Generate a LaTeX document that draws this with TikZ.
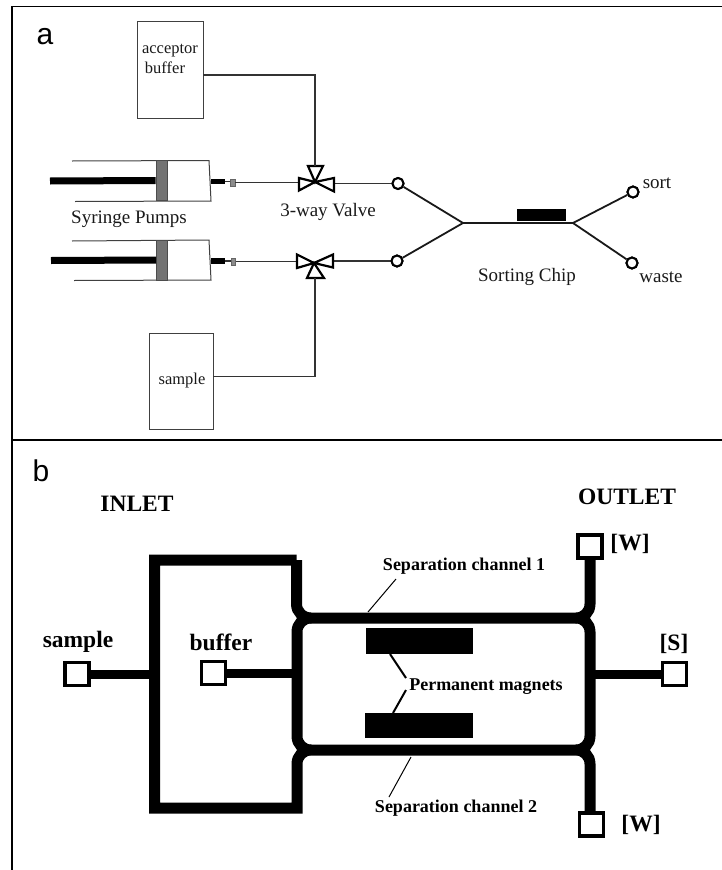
\documentclass[tikz,border=0pt]{standalone}
\usepackage{fontspec}
\setmainfont{Liberation Serif}
\newfontfamily\panelfont{Liberation Sans}
\newcommand{\fsz}[1]{\fontsize{#1}{#1}\selectfont}
\tikzset{
  frameline/.style={line width=1.6pt,black},
  tube/.style={line width=1.1pt,black!80},
  chipline/.style={line width=1.8pt,black!90},
  barrel/.style={line width=1pt,black!75},
  rod/.style={line width=7pt,black},
  vtri/.style={draw=black,fill=white,line width=2.2pt,line join=miter},
  reservoir/.style={draw=black!75,fill=white,line width=0.9pt,inner sep=0pt},
  pistonbox/.style={draw=black!70,fill=black!55,line width=0.6pt,inner sep=0pt,minimum width=11pt,minimum height=40pt},
  tipbox/.style={draw=black!60,fill=black!45,line width=0.5pt,inner sep=0pt,minimum width=4.5pt,minimum height=6.5pt},
  port/.style={circle,draw=black,fill=white,line width=2pt,inner sep=0pt,minimum size=11pt},
  lab/.style={inner sep=0pt,black!90,font=\fsz{19}},
  blab/.style={inner sep=0pt,black,font=\bfseries\fsz{18}},
  bbig/.style={inner sep=0pt,black,font=\bfseries\fsz{23.5}},
  panel/.style={inner sep=0pt,black,font=\panelfont\fsz{30}},
  channel/.style={line width=11pt,black,line cap=butt,line join=miter},
  stub/.style={line width=9pt,black},
  well/.style={draw=black,fill=white,line width=3.6pt,inner sep=0pt,minimum width=24pt,minimum height=23pt},
  magnet/.style={fill=black,inner sep=0pt,minimum width=107pt,minimum height=26pt},
  leader/.style={line width=1pt,black},
  mleader/.style={line width=2pt,black}
}
\begin{document}
\begin{tikzpicture}[x=1pt,y=-1pt]
\useasboundingbox (0,0) rectangle (722,870);
% frame
\coordinate (ftl) at (12,6.5); \coordinate (ftr) at (722,6.5);
\coordinate (fml) at (12,440); \coordinate (fmr) at (722,440);
\coordinate (fbl) at (12,870);
\draw[frameline] (ftr) -- (ftl) -- (fbl);
\draw[frameline] (fml) -- (fmr);
\node[panel] (la) at (45,37) {a};
\node[panel] (lb) at (41,471) {b};

% ---------- panel a ----------
\node[reservoir,minimum width=66pt,minimum height=97pt] (acceptor) at (170,69.5) {};
\node[lab,font=\fsz{16.5}] (acceptorT1) at (170,51) {acceptor};
\node[lab,font=\fsz{16.5}] (acceptorT2) at (165,68) {buffer};
\node[reservoir,minimum width=64pt,minimum height=96pt] (samplebox) at (181,381) {};
\node[lab,font=\fsz{16.5}] (sampleT) at (182,381) {sample};

% valves
\coordinate (v1) at (315,182); \coordinate (v1top) at (315,166);
\coordinate (v1l) at (299,182.5); \coordinate (v1r) at (334,183.5);
\coordinate (v2) at (314,263); \coordinate (v2bot) at (315,278);
\coordinate (v2l) at (297,261.5); \coordinate (v2r) at (333,261);

% syringes
\coordinate (b1a) at (72,161); \coordinate (b1b) at (209,160.5); \coordinate (b1c) at (211,201); \coordinate (b1d) at (75,201.5);
\draw[barrel] (b1a) -- (b1b) -- (b1c) -- (b1d);
\coordinate (b2a) at (72,241); \coordinate (b2b) at (209,240); \coordinate (b2c) at (211,280); \coordinate (b2d) at (74,280.5);
\draw[barrel] (b2a) -- (b2b) -- (b2c) -- (b2d);
\coordinate (r1) at (50,181); \coordinate (r2) at (51,260.5);
\node[pistonbox] (p1) at (161.5,180.5) {};
\node[pistonbox] (p2) at (162,260) {};
\draw[rod] (r1) -- (p1.west);
\draw[rod] (r2) -- (p2.west);
\coordinate (n1) at (211,181.5); \coordinate (n2) at (211,261);
\node[tipbox] (t1) at (232.5,182.5) {};
\node[tipbox] (t2) at (233,261.5) {};
\draw[line width=5.5pt,black] (n1) -- ++(14,0) coordinate (n1e);
\draw[line width=5.5pt,black] (n2) -- ++(14,0) coordinate (n2e);
\draw[tube] (n1e) -- (n1e -| t1.west);
\draw[tube] (n2e) -- (n2e -| t2.west);
\draw[tube] (t1.east) -- (v1l);
\draw[tube] (t2.east) -- (v2l);

% chip
\node[port] (in1) at (398,183.5) {};
\node[port] (in2) at (397,261) {};
\node[port] (sortp) at (633,192) {};
\node[port] (wastep) at (632,263) {};
\coordinate (j1) at (463,223); \coordinate (j2) at (573,223);
\node[fill=black,inner sep=0pt,minimum width=49pt,minimum height=12pt] (chip) at (541.5,215) {};
\draw[tube] (v1r) -- (in1.west);
\draw[tube] (v2r) -- (in2.west);
\draw[chipline] (in1) -- (j1) -- (in2);
\draw[chipline] (j1) -- (j2);
\draw[chipline] (sortp) -- (j2) -- (wastep);
\node[port] at (in1) {};
\node[port] at (in2) {};
\node[port] at (sortp) {};
\node[port] at (wastep) {};

% valve triangles
\draw[vtri] (v1) -- (308,166) -- (323,166) -- cycle;
\draw[vtri] (v1) -- (299,178) -- (299,190.5) -- cycle;
\draw[vtri] (v1) -- (334,178) -- (334,191.5) -- cycle;
\draw[vtri] (v2) -- (297,254.5) -- (297,268) -- cycle;
\draw[vtri] (v2) -- (333,254.5) -- (333,267.5) -- cycle;
\draw[vtri] (v2) -- (307,278) -- (324,278) -- cycle;
\draw[tube] ([yshift=-5.5pt]acceptor.east) -| (v1top);
\draw[tube] ([yshift=4.5pt]samplebox.east) -| (v2bot);

\node[lab] (pumps) at (129,219) {Syringe Pumps};
\node[lab] (valve) at (328,212) {3-way Valve};
\node[lab] (chipT) at (527,277) {Sorting Chip};
\node[lab] (sortT) at (657,183) {sort};
\node[lab] (wasteT) at (661,277) {waste};

% ---------- panel b ----------
\node[bbig] (inlet) at (137,504) {INLET};
\node[bbig] (outlet) at (627,497) {OUTLET};

\coordinate (rx1) at (154.5,560); \coordinate (rx2) at (296.5,560);
\coordinate (rx3) at (154.5,808); \coordinate (rx4) at (297,808);
\coordinate (ch1l) at (311,618); \coordinate (ch1r) at (576,618);
\coordinate (ch2l) at (311,750); \coordinate (ch2r) at (576,750);
\coordinate (w2top) at (590,812);
\node[well] (wellW1) at (590,546.5) {};
\node[well] (wellW2) at (591.5,824.5) {};
\node[well] (wellS) at (674.5,674) {};
\node[well] (wellSample) at (77,674) {};
\node[well] (wellBuffer) at (213.5,673) {};

% inlet loop and channels
\draw[channel] (rx2) -- (rx1) -- (rx3) -- (rx4) -- (297,764)
  .. controls (297,756) and (303,750) .. (ch2l) -- (ch2r)
  .. controls (584,750) and (590,756) .. (590,764) -- (w2top);
\draw[channel] (rx2) -- (296.5,604)
  .. controls (296.5,612) and (303,618) .. (ch1l) -- (ch1r)
  .. controls (584,618) and (590,612) .. (590,604) -- (wellW1.south);
% inner loop
\draw[channel] (ch1l) .. controls (303,618) and (297,624) .. (297,632) -- (297,736)
  .. controls (297,744) and (303,750) .. (ch2l);
\draw[channel] (ch1r) .. controls (584,618) and (590,624) .. (590,632) -- (590,736)
  .. controls (590,744) and (584,750) .. (ch2r);
\coordinate (rx2b) at (297,684);
\draw[stub] (wellSample.east) -- (rx1 |- wellSample.east);
\draw[stub] (wellBuffer.east) -- (rx2b |- wellBuffer.east);
\draw[stub] (wellS.west) -- (590,674);
\node[well] at (wellW1) {};
\node[well] at (wellW2) {};

\node[magnet] (mag1) at (419.5,641) {};
\node[magnet,minimum width=108pt,minimum height=25pt] (mag2) at (419,725.5) {};
\node[blab] (permT) at (486,687) {Permanent magnets};
\coordinate (pm1) at (406,678); \coordinate (pm2) at (406,690);
\draw[mleader] (390,654) -- (pm1);
\draw[mleader] (pm2) -- (393,713);
\node[blab] (sep1) at (464,566) {Separation channel 1};
\node[blab] (sep2) at (456,808) {Separation channel 2};
\coordinate (l1a) at (396,579); \coordinate (l1b) at (368,612);
\coordinate (l2a) at (411,757); \coordinate (l2b) at (389,797);
\draw[leader] (l1a) -- (l1b);
\draw[leader] (l2a) -- (l2b);

\node[bbig] (sampleL) at (78,642) {sample};
\node[bbig] (bufferL) at (221,642) {buffer};
\node[bbig] (w1) at (630,544) {[W]};
\node[bbig] (w2) at (641,825) {[W]};
\node[bbig] (s1) at (674,644) {[S]};
\end{tikzpicture}
\end{document}
